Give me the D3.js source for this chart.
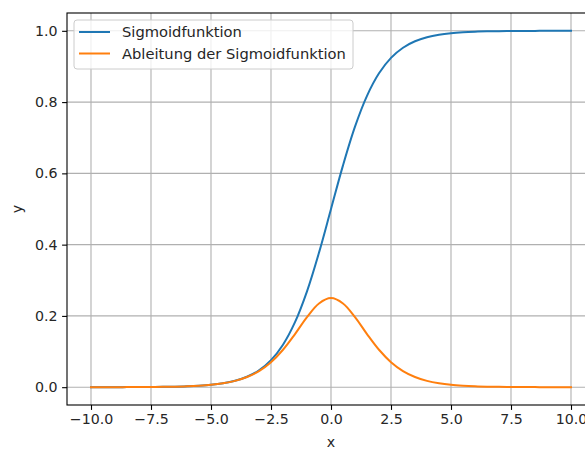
<!DOCTYPE html>
<html><head><meta charset="utf-8">
<script src="https://cdn.jsdelivr.net/npm/d3@7"></script>
<style>body{margin:0;background:#fff}svg{display:block}text{font-family:"DejaVu Sans",sans-serif;fill:#262626}</style>
</head><body><svg id="c" width="585" height="449"></svg>
<script>
const xValues = [-10,-9.5,-9,-8.5,-8,-7.5,-7,-6.5,-6,-5.5,-5,-4.5,-4,-3.5,-3,-2.5,-2,-1.5,-1,-0.5,0,0.5,1,1.5,2,2.5,3,3.5,4,4.5,5,5.5,6,6.5,7,7.5,8,8.5,9,9.5,10];
const sigmoid = [0.0000,0.0001,0.0001,0.0002,0.0003,0.0006,0.0009,0.0015,0.0025,0.0041,0.0067,0.0110,0.0180,0.0293,0.0474,0.0759,0.1192,0.1824,0.2689,0.3775,0.5000,0.6225,0.7311,0.8176,0.8808,0.9241,0.9526,0.9707,0.9820,0.9890,0.9933,0.9959,0.9975,0.9985,0.9991,0.9994,0.9997,0.9998,0.9999,0.9999,1.0000];
const derivative = [0.0000,0.0001,0.0001,0.0002,0.0003,0.0006,0.0009,0.0015,0.0025,0.0041,0.0066,0.0109,0.0177,0.0285,0.0452,0.0701,0.1050,0.1491,0.1966,0.2350,0.2500,0.2350,0.1966,0.1491,0.1050,0.0701,0.0452,0.0285,0.0177,0.0109,0.0066,0.0041,0.0025,0.0015,0.0009,0.0006,0.0003,0.0002,0.0001,0.0001,0.0000];
const xTicks = [-10,-7.5,-5,-2.5,0,2.5,5,7.5,10];
const yTicks = [0,0.2,0.4,0.6,0.8,1.0];
const seriesNames = ["Sigmoidfunktion","Ableitung der Sigmoidfunktion"];
const colors = ["#1f77b4","#ff7f0e"];

const svg = d3.select("#c");
const L=67, R=595, T=13, B=405;
const x = d3.scaleLinear().domain([-11,11]).range([L,R]);
const y = d3.scaleLinear().domain([-0.05,1.05]).range([B,T]);

// grid
const g = svg.append("g");
g.selectAll(".gx").data(xTicks).enter().append("line")
 .attr("x1",d=>x(d)).attr("x2",d=>x(d)).attr("y1",T).attr("y2",B)
 .attr("stroke","#b0b0b0").attr("stroke-width",1.1);
g.selectAll(".gy").data(yTicks).enter().append("line")
 .attr("y1",d=>y(d)).attr("y2",d=>y(d)).attr("x1",L).attr("x2",R)
 .attr("stroke","#b0b0b0").attr("stroke-width",1.1);

// lines
const line = d3.line().curve(d3.curveCatmullRom.alpha(0.5));
[sigmoid,derivative].forEach((s,i)=>{
  svg.append("path").attr("d",line(xValues.map((v,j)=>[x(v),y(s[j])])))
   .attr("fill","none").attr("stroke",colors[i]).attr("stroke-width",2).attr("stroke-linecap","square");
});

// axes
const xa = svg.append("g").attr("transform",`translate(0,${B})`)
 .call(d3.axisBottom(x).tickValues(xTicks).tickFormat(d=>d3.format(".1f")(d).replace("-","\u2212")).tickSize(4.9).tickPadding(4.5));
const ya = svg.append("g").attr("transform",`translate(${L},0)`)
 .call(d3.axisLeft(y).tickValues(yTicks).tickFormat(d3.format(".1f")).tickSize(4.9).tickPadding(4.5));
[xa,ya].forEach(a=>{
  a.select(".domain").remove();
  a.selectAll("line").attr("stroke","#000").attr("stroke-width",1.1);
  a.selectAll("text").attr("font-size","14.2px").attr("fill","#262626").style("font-family","DejaVu Sans");
});
// spines
svg.append("rect").attr("x",L).attr("y",T).attr("width",R-L).attr("height",B-T)
 .attr("fill","none").attr("stroke","#000").attr("stroke-width",1.1);

svg.append("text").attr("x",x(0)).attr("y",447).attr("text-anchor","middle").attr("font-size","14.2px").text("x");
svg.append("text").attr("transform",`translate(22,${(T+B)/2}) rotate(-90)`).attr("text-anchor","middle").attr("font-size","14.2px").text("y");

// legend
const lg = svg.append("g");
lg.append("rect").attr("x",74).attr("y",20).attr("width",279).attr("height",49).attr("rx",3)
 .attr("fill","#fff").attr("fill-opacity",0.8).attr("stroke","#cccccc").attr("stroke-width",1);
seriesNames.forEach((n,i)=>{
  const yy = 32 + i*21.5;
  lg.append("line").attr("x1",79).attr("x2",110).attr("y1",yy).attr("y2",yy).attr("stroke",colors[i]).attr("stroke-width",2);
  lg.append("text").attr("x",122).attr("y",yy+5).attr("font-size","14.7px").text(n);
});
</script></body></html>
